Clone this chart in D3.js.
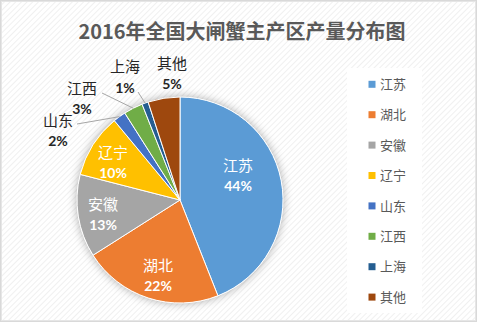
<!DOCTYPE html>
<html><head><meta charset="utf-8">
<script src="https://d3js.org/d3.v7.min.js"></script>
<style>html,body{margin:0;padding:0;background:#fff;}svg{display:block;}</style>
</head><body>
<script>
const categories = ["江苏","湖北","安徽","辽宁","山东","江西","上海","其他"];
const values = [44,22,13,10,2,3,1,5];
const colors = ["#5B9BD5","#ED7D31","#A5A5A5","#FFC000","#4472C4","#70AD47","#255E91","#9E480E"];
const title = "2016年全国大闸蟹主产区产量分布图";

// label layout (x, name y, pct y, inside?, leader start)
const labelLayout = [
  {x:238, y1:166, y2:186, inside:true},
  {x:158, y1:266, y2:286, inside:true},
  {x:103, y1:205, y2:225, inside:true},
  {x:113, y1:153, y2:173, inside:true},
  {x:58,  y1:121, y2:141, inside:false, lx:77,  ly:124},
  {x:82,  y1:89,  y2:109, inside:false, lx:102, ly:93},
  {x:125, y1:67,  y2:88,  inside:false, lx:138, ly:92},
  {x:172, y1:64,  y2:84,  inside:false}
];

const W=477,H=322, cx=180, cy=200, R=103;
const font = "'Noto Sans CJK SC','Microsoft YaHei',sans-serif";
const numFont = "Lato,'Noto Sans',sans-serif";
const svg = d3.select("body").append("svg").attr("width",W).attr("height",H);
const defs = svg.append("defs");
const pat = defs.append("pattern").attr("id","hatch").attr("patternUnits","userSpaceOnUse")
  .attr("width",4).attr("height",4).attr("patternTransform","rotate(45)");
pat.append("rect").attr("width",4).attr("height",4).attr("fill","#ffffff");
pat.append("line").attr("x1",0).attr("y1",0).attr("x2",0).attr("y2",4).attr("stroke","#ececec").attr("stroke-width",1.5);
const f = defs.append("filter").attr("id","sh").attr("x","-30%").attr("y","-30%").attr("width","160%").attr("height","160%");
f.append("feDropShadow").attr("dx",0).attr("dy",0).attr("stdDeviation",5).attr("flood-color","#000").attr("flood-opacity",0.35);

svg.append("rect").attr("x",0.5).attr("y",0.5).attr("width",W-1).attr("height",H-1)
  .attr("fill","url(#hatch)").attr("stroke","#d9d9d9").attr("stroke-width",1);
svg.append("rect").attr("x",1.5).attr("y",1.5).attr("width",W-3).attr("height",H-3)
  .attr("fill","none").attr("stroke","#e6e6e6").attr("stroke-width",1);

svg.append("text").attr("x",242).attr("y",39).attr("text-anchor","middle")
  .attr("font-family",font).attr("font-size",20).attr("font-weight","bold").attr("fill","#595959").text(title);

const data = categories.map((c,i)=>({name:c,value:values[i],color:colors[i],lay:labelLayout[i]}));
const pie = d3.pie().value(d=>d.value).sort(null);
const arcs = pie(data);
const arc = d3.arc().innerRadius(0).outerRadius(R);
const g = svg.append("g").attr("transform",`translate(${cx},${cy})`);
g.append("circle").attr("r",R).attr("fill","#fff").attr("filter","url(#sh)");
g.selectAll("path.s").data(arcs).join("path").attr("class","s")
  .attr("d",arc).attr("fill",d=>d.data.color).attr("stroke","#fff").attr("stroke-width",1);

// leader lines
arcs.forEach(a=>{
  const L=a.data.lay;
  if(L.lx!==undefined){
    const mid=(a.startAngle+a.endAngle)/2;
    const px=cx+R*Math.sin(mid), py=cy-R*Math.cos(mid);
    svg.append("line").attr("x1",L.lx).attr("y1",L.ly).attr("x2",px).attr("y2",py)
      .attr("stroke","#a6a6a6").attr("stroke-width",1);
  }
});
// labels
arcs.forEach(a=>{
  const L=a.data.lay; const col=L.inside?"#fff":"#262626";
  svg.append("text").attr("x",L.x).attr("y",L.y1).attr("dy","0.36em").attr("text-anchor","middle")
    .attr("font-family",font).attr("font-size",15).attr("fill",col).text(a.data.name);
  svg.append("text").attr("x",L.x).attr("y",L.y2).attr("dy","0.36em").attr("text-anchor","middle")
    .attr("font-family",numFont).attr("font-size",14).attr("font-weight","bold").attr("fill",col).text(a.data.value+"%");
});

// legend
svg.append("rect").attr("x",347).attr("y",68).attr("width",75).attr("height",245).attr("fill","#fff");
const lg = svg.append("g");
data.forEach((d,i)=>{
  const y = 84.3 + i*30.4;
  lg.append("rect").attr("x",368.5).attr("y",y-3.5).attr("width",7).attr("height",7).attr("fill",d.color);
  lg.append("text").attr("x",380).attr("y",y).attr("dy","0.36em").attr("font-family",font)
    .attr("font-size",13).attr("fill","#595959").text(d.name);
});
</script>
</body></html>
